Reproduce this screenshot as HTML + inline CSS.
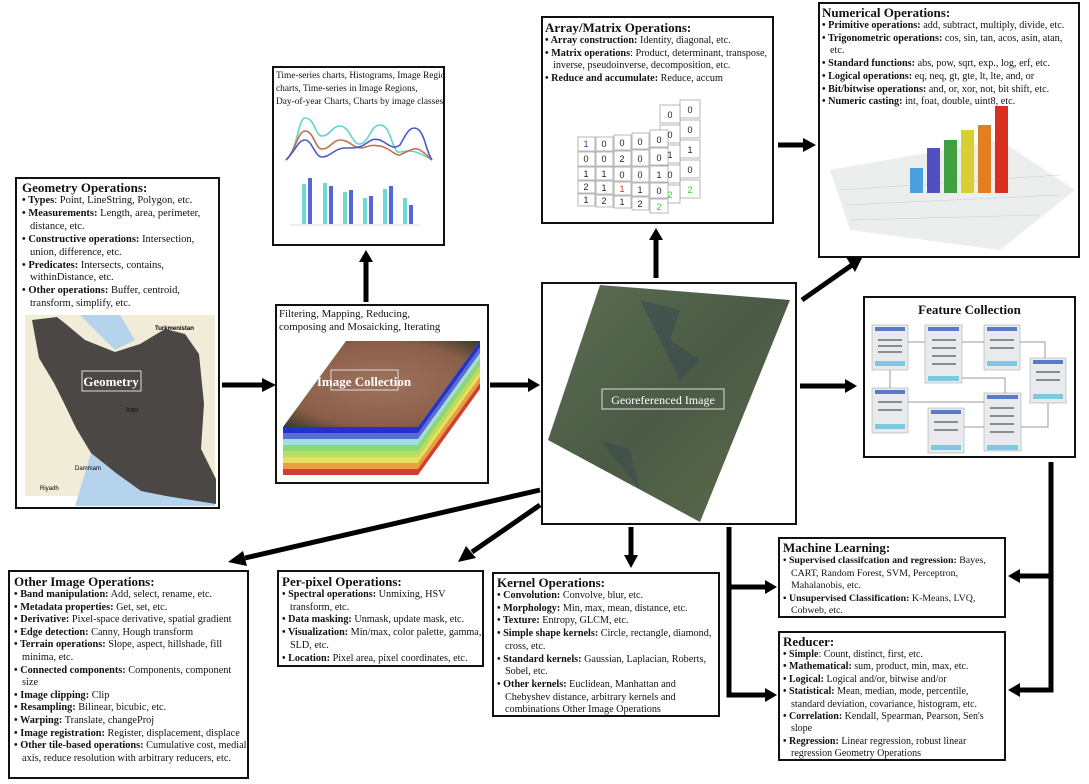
<!DOCTYPE html>
<html><head><meta charset="utf-8"><style>
body{margin:0;width:1089px;height:784px;background:#fff;position:relative;overflow:hidden;font-family:"Liberation Serif",serif;color:#111}
.b{position:absolute;border:2px solid #111;background:#fff;box-sizing:border-box}
.t{position:absolute;font-size:10.2px;line-height:12.7px}
.t h{display:block;font-weight:bold;font-size:13px;line-height:15px}
.t div{padding-left:8px;text-indent:-8px}
.t div:before{content:"• ";font-weight:bold}
svg{position:absolute;left:0;top:0}
</style></head><body>
<div class="b" style="left:15px;top:177px;width:205px;height:332px"></div>
<div class="b" style="left:272px;top:66px;width:173px;height:180px"></div>
<div class="b" style="left:275px;top:304px;width:214px;height:180px"></div>
<div class="b" style="left:541px;top:282px;width:256px;height:243px"></div>
<div class="b" style="left:541px;top:16px;width:233px;height:208px"></div>
<div class="b" style="left:818px;top:2px;width:262px;height:256px"></div>
<div class="b" style="left:863px;top:296px;width:213px;height:162px"></div>
<div class="b" style="left:8px;top:570px;width:241px;height:209px"></div>
<div class="b" style="left:277px;top:570px;width:207px;height:97px"></div>
<div class="b" style="left:492px;top:572px;width:228px;height:145px"></div>
<div class="b" style="left:778px;top:537px;width:228px;height:81px"></div>
<div class="b" style="left:778px;top:631px;width:228px;height:130px"></div>

<svg width="1089" height="784">
<defs>
<linearGradient id="sat" x1="0" y1="0" x2="1" y2="1"><stop offset="0" stop-color="#5c6e52"/><stop offset=".5" stop-color="#4a5a45"/><stop offset="1" stop-color="#5f6b4c"/></linearGradient>
<radialGradient id="ic" cx=".5" cy=".5" r=".7"><stop offset="0" stop-color="#a0725e"/><stop offset=".7" stop-color="#8a5e48"/><stop offset="1" stop-color="#3a3a2a"/></radialGradient>
</defs>
<rect x="25" y="315" width="190" height="181" fill="#f0ecd8"/>
<path d="M80,315 h40 l15,25 l-20,10 z" fill="#b5d3ec"/>
<path d="M95,440 l40,40 l50,10 l30,6 v10 h-140 z" fill="#b5d3ec"/>
<path d="M32,320 l25,-3 l10,8 l18,15 l30,12 l25,-8 l25,-15 l20,5 l14,20 l5,50 l-3,45 l15,30 l0,25 l-50,-8 l-25,-5 l-25,-18 l-25,-20 l-15,-25 l-12,-25 l-10,-20 l-15,-25 z" fill="#4a4744"/>
<rect x="82" y="371" width="59" height="20" fill="none" stroke="#ddd" stroke-width="1"/>
<text x="111" y="386" font-size="13" font-weight="bold" fill="#fff" text-anchor="middle" font-family="Liberation Serif">Geometry</text>
<text x="126" y="412" font-size="7" fill="#111" font-family="Liberation Sans">Iran</text>
<text x="155" y="330" font-size="6" font-family="Liberation Sans" font-weight="bold">Turkmenistan</text>
<text x="40" y="490" font-size="6" font-family="Liberation Sans">Riyadh</text>
<text x="75" y="470" font-size="6" font-family="Liberation Sans">Dammam</text>
<path d="M286,160 C298,150 298,118 305,118 C315,118 315,136 322,136 C330,136 332,126 340,126 C350,126 352,145 360,144 C370,142 370,125 380,125 C392,125 392,155 400,152 C410,150 416,150 432,160" fill="none" stroke="#5ed6d0" stroke-width="1.6"/>
<path d="M286,160 C296,150 298,131 305,131 C314,131 315,149 322,149 C330,149 333,140 340,140 C350,140 352,148 362,148 C372,145 372,145 380,146 C390,148 395,156 400,155 C410,150 415,147 420,150 C428,155 428,157 432,160" fill="none" stroke="#c0704a" stroke-width="1.6"/>
<path d="M286,160 C296,150 298,140 305,140 C312,140 315,157 322,157 C330,157 335,148 345,148 C355,148 355,148 362,146 C372,140 372,138 380,140 C390,145 393,150 400,145 C408,130 410,128 415,128 C425,130 425,150 432,160" fill="none" stroke="#4a5ac8" stroke-width="1.6"/>
<g fill="#6fd8d0"><rect x="302" y="184" width="4" height="40"/><rect x="323" y="183" width="4" height="41"/><rect x="343" y="192" width="4" height="32"/><rect x="363" y="198" width="4" height="26"/><rect x="383" y="189" width="4" height="35"/><rect x="403" y="198" width="4" height="26"/></g>
<g fill="#5566d8"><rect x="308" y="178" width="4" height="46"/><rect x="329" y="186" width="4" height="38"/><rect x="349" y="190" width="4" height="34"/><rect x="369" y="196" width="4" height="28"/><rect x="389" y="186" width="4" height="38"/><rect x="409" y="205" width="4" height="19"/></g>
<line x1="290" y1="225" x2="420" y2="225" stroke="#ddd"/>
<rect x="283" y="427" width="135" height="6" fill="#2233cc"/><rect x="283" y="433" width="135" height="6" fill="#5a6ad8"/><rect x="283" y="439" width="135" height="6" fill="#9fe0d8"/><rect x="283" y="445" width="135" height="6" fill="#8ad87a"/><rect x="283" y="451" width="135" height="6" fill="#b8e060"/><rect x="283" y="457" width="135" height="6" fill="#e8e060"/><rect x="283" y="463" width="135" height="6" fill="#e8a040"/><rect x="283" y="469" width="135" height="6" fill="#d04030"/>
<polygon points="418,427 480,341 480,389 418,475" fill="#d04030"/>
<polygon points="418,427 480,341 480,347 418,433" fill="#2233cc"/>
<polygon points="418,433 480,347 480,353 418,439" fill="#5a6ad8"/>
<polygon points="418,439 480,353 480,359 418,445" fill="#9fe0d8"/>
<polygon points="418,445 480,359 480,365 418,451" fill="#8ad87a"/>
<polygon points="418,451 480,365 480,371 418,457" fill="#b8e060"/>
<polygon points="418,457 480,371 480,377 418,463" fill="#e8e060"/>
<polygon points="418,463 480,377 480,383 418,469" fill="#e8a040"/>
<polygon points="346,341 480,341 418,427 283,427" fill="url(#ic)"/>
<rect x="331" y="370" width="67" height="20" fill="none" stroke="#ddd"/>
<text x="364" y="386" font-size="13" font-weight="bold" fill="#fff" text-anchor="middle" font-family="Liberation Serif">Image Collection</text>
<polygon points="600,285 790,300 700,522 548,440" fill="url(#sat)"/>
<path d="M640,300 l40,10 l-10,30 l30,20 l-20,20 z" fill="#3a4a50" opacity=".6"/>
<path d="M600,440 l30,10 l10,40 z" fill="#3a4a50" opacity=".5"/>
<rect x="602" y="389" width="122" height="20" fill="none" stroke="#ddd"/>
<text x="663" y="404" font-size="12" fill="#fff" text-anchor="middle" font-family="Liberation Serif">Georeferenced Image</text>
<g font-family="Liberation Sans" font-size="9" text-anchor="middle" stroke="#999" stroke-width=".7">
<g fill="#fff">
<rect x="680" y="100" width="20" height="18"/><rect x="680" y="120" width="20" height="18"/><rect x="680" y="140" width="20" height="18"/><rect x="680" y="160" width="20" height="18"/><rect x="680" y="180" width="20" height="18"/>
<rect x="660" y="105" width="20" height="18"/><rect x="660" y="125" width="20" height="18"/><rect x="660" y="145" width="20" height="18"/><rect x="660" y="165" width="20" height="18"/><rect x="660" y="185" width="20" height="18"/>
</g>
<g fill="#fff">
<rect x="578" y="137" width="17" height="14"/><rect x="596" y="137" width="17" height="14"/><rect x="614" y="135" width="17" height="15"/><rect x="632" y="133" width="17" height="16"/><rect x="650" y="130" width="18" height="17"/>
<rect x="578" y="152" width="17" height="14"/><rect x="596" y="152" width="17" height="14"/><rect x="614" y="151" width="17" height="15"/><rect x="632" y="150" width="17" height="16"/><rect x="650" y="148" width="18" height="17"/>
<rect x="578" y="167" width="17" height="13"/><rect x="596" y="167" width="17" height="13"/><rect x="614" y="167" width="17" height="14"/><rect x="632" y="167" width="17" height="15"/><rect x="650" y="166" width="18" height="16"/>
<rect x="578" y="181" width="17" height="12"/><rect x="596" y="181" width="17" height="13"/><rect x="614" y="182" width="17" height="13"/><rect x="632" y="183" width="17" height="13"/><rect x="650" y="183" width="18" height="15"/>
<rect x="578" y="194" width="17" height="12"/><rect x="596" y="195" width="17" height="12"/><rect x="614" y="196" width="17" height="12"/><rect x="632" y="197" width="17" height="13"/><rect x="650" y="199" width="18" height="14"/>
</g>
<g stroke="none" fill="#222">
<text x="586" y="147" fill="#33c">1</text><text x="604" y="147">0</text><text x="622" y="146">0</text><text x="640" y="145">0</text><text x="659" y="143">0</text>
<text x="586" y="162">0</text><text x="604" y="162">0</text><text x="622" y="162">2</text><text x="640" y="162">0</text><text x="659" y="161">0</text>
<text x="586" y="177">1</text><text x="604" y="177">1</text><text x="622" y="178">0</text><text x="640" y="178">0</text><text x="659" y="178">1</text>
<text x="586" y="190">2</text><text x="604" y="191">1</text><text x="622" y="192" fill="#d22">1</text><text x="640" y="193">1</text><text x="659" y="194">0</text>
<text x="586" y="203">1</text><text x="604" y="204">2</text><text x="622" y="205">1</text><text x="640" y="207">2</text><text x="659" y="210" fill="#3c3">2</text>
<text x="690" y="113">0</text><text x="690" y="133">0</text><text x="690" y="153">1</text><text x="690" y="173">0</text><text x="690" y="193" fill="#3c3">2</text>
<text x="670" y="118">0</text><text x="670" y="138">0</text><text x="670" y="158">1</text><text x="670" y="178">0</text><text x="670" y="198" fill="#3c3">2</text>
</g></g>
<polygon points="830,170 1000,140 1075,190 1000,250 850,230" fill="#eceeee"/>
<g stroke="#ccc" stroke-width=".5"><line x1="840" y1="190" x2="1060" y2="175"/><line x1="845" y1="205" x2="1060" y2="195"/><line x1="850" y1="220" x2="1040" y2="215"/></g>
<rect x="910" y="168" width="13" height="25" fill="#4aa0e0"/>
<rect x="927" y="148" width="13" height="45" fill="#5050c0"/>
<rect x="944" y="140" width="13" height="53" fill="#40a040"/>
<rect x="961" y="130" width="13" height="63" fill="#d8d030"/>
<rect x="978" y="125" width="13" height="68" fill="#e08020"/>
<rect x="995" y="106" width="13" height="87" fill="#d83020"/>
<g fill="#e8eaee" stroke="#aaa" stroke-width=".6">
<rect x="872" y="325" width="36" height="45"/><rect x="925" y="325" width="37" height="58"/><rect x="984" y="325" width="36" height="45"/><rect x="1030" y="358" width="36" height="45"/>
<rect x="872" y="388" width="36" height="45"/><rect x="928" y="408" width="36" height="45"/><rect x="984" y="393" width="37" height="58"/>
</g>
<g fill="#5a7ac8"><rect x="875" y="327" width="30" height="4"/><rect x="928" y="327" width="31" height="4"/><rect x="987" y="327" width="30" height="4"/><rect x="1033" y="360" width="30" height="4"/><rect x="875" y="390" width="30" height="4"/><rect x="931" y="410" width="30" height="4"/><rect x="987" y="395" width="31" height="4"/></g>
<g fill="#80c8e0"><rect x="875" y="361" width="30" height="5"/><rect x="928" y="376" width="31" height="5"/><rect x="987" y="361" width="30" height="5"/><rect x="1033" y="394" width="30" height="5"/><rect x="875" y="424" width="30" height="5"/><rect x="931" y="445" width="30" height="5"/><rect x="987" y="445" width="31" height="5"/></g>
<g stroke="#555" stroke-width="1.2"><line x1="878" y1="340" x2="902" y2="340"/><line x1="878" y1="346" x2="902" y2="346"/><line x1="878" y1="352" x2="902" y2="352"/><line x1="932" y1="340" x2="956" y2="340"/><line x1="932" y1="348" x2="956" y2="348"/><line x1="932" y1="356" x2="956" y2="356"/><line x1="932" y1="364" x2="956" y2="364"/><line x1="990" y1="340" x2="1014" y2="340"/><line x1="990" y1="348" x2="1014" y2="348"/><line x1="1036" y1="372" x2="1060" y2="372"/><line x1="1036" y1="380" x2="1060" y2="380"/><line x1="878" y1="402" x2="902" y2="402"/><line x1="878" y1="410" x2="902" y2="410"/><line x1="934" y1="422" x2="958" y2="422"/><line x1="934" y1="430" x2="958" y2="430"/><line x1="990" y1="408" x2="1014" y2="408"/><line x1="990" y1="416" x2="1014" y2="416"/><line x1="990" y1="424" x2="1014" y2="424"/><line x1="990" y1="432" x2="1014" y2="432"/></g>
<g stroke="#999" stroke-width="1" fill="none"><path d="M908,342 H925 M962,342 H984 M1020,342 H1045 V358 M890,370 V388 M908,402 H984 M962,378 H1005 V393 M964,427 H984 M1021,427 H1048 V403"/></g>
<g stroke="#000" stroke-width="5" fill="none">
<line x1="222" y1="385" x2="262" y2="385"/>
<line x1="490" y1="385" x2="528" y2="385"/>
<line x1="366" y1="302" x2="366" y2="262"/>
<line x1="656" y1="278" x2="656" y2="240"/>
<line x1="778" y1="145" x2="803" y2="145"/>
<line x1="802" y1="300" x2="852" y2="265"/>
<line x1="800" y1="386" x2="845" y2="386"/>
<line x1="540" y1="490" x2="245" y2="558"/>
<line x1="540" y1="505" x2="472" y2="552"/>
<line x1="631" y1="527" x2="631" y2="555"/>
<polyline points="729,527 729,695 765,695"/>
<line x1="729" y1="587" x2="765" y2="587"/>
<polyline points="1051,462 1051,690 1020,690"/>
<line x1="1051" y1="576" x2="1020" y2="576"/>
</g>
<g fill="#000">
<polygon points="262,378 276,385 262,392"/>
<polygon points="528,378 540,385 528,392"/>
<polygon points="359,262 366,250 373,262"/>
<polygon points="649,240 656,228 663,240"/>
<polygon points="803,138 816,145 803,152"/>
<polygon points="846,257 862,258 855,272"/>
<polygon points="845,379 857,386 845,393"/>
<polygon points="243,551 228,562 247,566"/>
<polygon points="466,546 458,562 476,558"/>
<polygon points="624,555 631,568 638,555"/>
<polygon points="765,688 777,695 765,702"/>
<polygon points="765,580 777,587 765,594"/>
<polygon points="1020,683 1008,690 1020,697"/>
<polygon points="1020,569 1008,576 1020,583"/>
</g>
</svg>

<div class="t" style="left:22px;top:180px;width:196px;font-size:10.5px;line-height:12.9px"><h>Geometry Operations:</h>
<div><b>Types</b>: Point, LineString, Polygon, etc.</div>
<div><b>Measurements:</b> Length, area, perimeter, distance, etc.</div>
<div><b>Constructive operations:</b> Intersection, union, difference, etc.</div>
<div><b>Predicates:</b> Intersects, contains, withinDistance, etc.</div>
<div><b>Other operations:</b> Buffer, centroid, transform, simplify, etc.</div></div>

<div class="t" style="left:276px;top:70px;width:168px;font-size:9.4px;line-height:13px;white-space:nowrap;overflow:hidden">Time-series charts, Histograms, Image Regions<br>charts, Time-series in Image Regions,<br>Day-of-year Charts, Charts by image classes</div>
<div class="t" style="left:279px;top:308px;width:200px;font-size:10.8px;line-height:13px">Filtering, Mapping, Reducing,<br>composing and Mosaicking, Iterating</div>

<div class="t" style="left:545px;top:20px;width:228px"><h>Array/Matrix Operations:</h>
<div><b>Array construction:</b> Identity, diagonal, etc.</div>
<div><b>Matrix operations</b>: Product, determinant, transpose, inverse, pseudoinverse, decomposition, etc.</div>
<div><b>Reduce and accumulate:</b> Reduce, accum</div></div>

<div class="t" style="left:822px;top:5px;width:256px"><h>Numerical Operations:</h>
<div><b>Primitive operations:</b> add, subtract, multiply, divide, etc.</div>
<div><b>Trigonometric operations:</b> cos, sin, tan, acos, asin, atan, etc.</div>
<div><b>Standard functions:</b> abs, pow, sqrt, exp., log, erf, etc.</div>
<div><b>Logical operations:</b> eq, neq, gt, gte, lt, lte, and, or</div>
<div><b>Bit/bitwise operations:</b> and, or, xor, not, bit shift, etc.</div>
<div><b>Numeric casting:</b> int, foat, double, uint8, etc.</div></div>

<div class="t" style="left:863px;top:302px;width:213px;text-align:center"><h>Feature Collection</h></div>

<div class="t" style="left:14px;top:574px;width:233px;font-size:10.3px;line-height:12.6px"><h>Other Image Operations:</h>
<div><b>Band manipulation:</b> Add, select, rename, etc.</div>
<div><b>Metadata properties:</b> Get, set, etc.</div>
<div><b>Derivative:</b> Pixel-space derivative, spatial gradient</div>
<div><b>Edge detection:</b> Canny, Hough transform</div>
<div><b>Terrain operations:</b> Slope, aspect, hillshade, fill minima, etc.</div>
<div><b>Connected components:</b> Components, component size</div>
<div><b>Image clipping:</b> Clip</div>
<div><b>Resampling:</b> Bilinear, bicubic, etc.</div>
<div><b>Warping:</b> Translate, changeProj</div>
<div><b>Image registration:</b> Register, displacement, displace</div>
<div><b>Other tile-based operations:</b> Cumulative cost, medial axis, reduce resolution with arbitrary reducers, etc.</div></div>

<div class="t" style="left:282px;top:574px;width:200px"><h>Per-pixel Operations:</h>
<div><b>Spectral operations:</b> Unmixing, HSV transform, etc.</div>
<div><b>Data masking:</b> Unmask, update mask, etc.</div>
<div><b>Visualization:</b> Min/max, color palette, gamma, SLD, etc.</div>
<div><b>Location:</b> Pixel area, pixel coordinates, etc.</div></div>

<div class="t" style="left:497px;top:575px;width:222px"><h>Kernel Operations:</h>
<div><b>Convolution:</b> Convolve, blur, etc.</div>
<div><b>Morphology:</b> Min, max, mean, distance, etc.</div>
<div><b>Texture:</b> Entropy, GLCM, etc.</div>
<div><b>Simple shape kernels:</b> Circle, rectangle, diamond, cross, etc.</div>
<div><b>Standard kernels:</b> Gaussian, Laplacian, Roberts, Sobel, etc.</div>
<div><b>Other kernels:</b> Euclidean, Manhattan and Chebyshev distance, arbitrary kernels and combinations Other Image Operations</div></div>

<div class="t" style="left:783px;top:540px;width:224px;font-size:9.9px;line-height:12.5px"><h>Machine Learning:</h>
<div><b>Supervised classifcation and regression:</b> Bayes, CART, Random Forest, SVM, Perceptron, Mahalanobis, etc.</div>
<div><b>Unsupervised Classification:</b> K-Means, LVQ, Cobweb, etc.</div></div>

<div class="t" style="left:783px;top:634px;width:215px;font-size:10px;line-height:12.4px"><h>Reducer:</h>
<div><b>Simple</b>: Count, distinct, first, etc.</div>
<div><b>Mathematical:</b> sum, product, min, max, etc.</div>
<div><b>Logical:</b> Logical and/or, bitwise and/or</div>
<div><b>Statistical:</b> Mean, median, mode, percentile, standard deviation, covariance, histogram, etc.</div>
<div><b>Correlation:</b> Kendall, Spearman, Pearson, Sen's slope</div>
<div><b>Regression:</b> Linear regression, robust linear regression Geometry Operations</div></div>
</body></html>
